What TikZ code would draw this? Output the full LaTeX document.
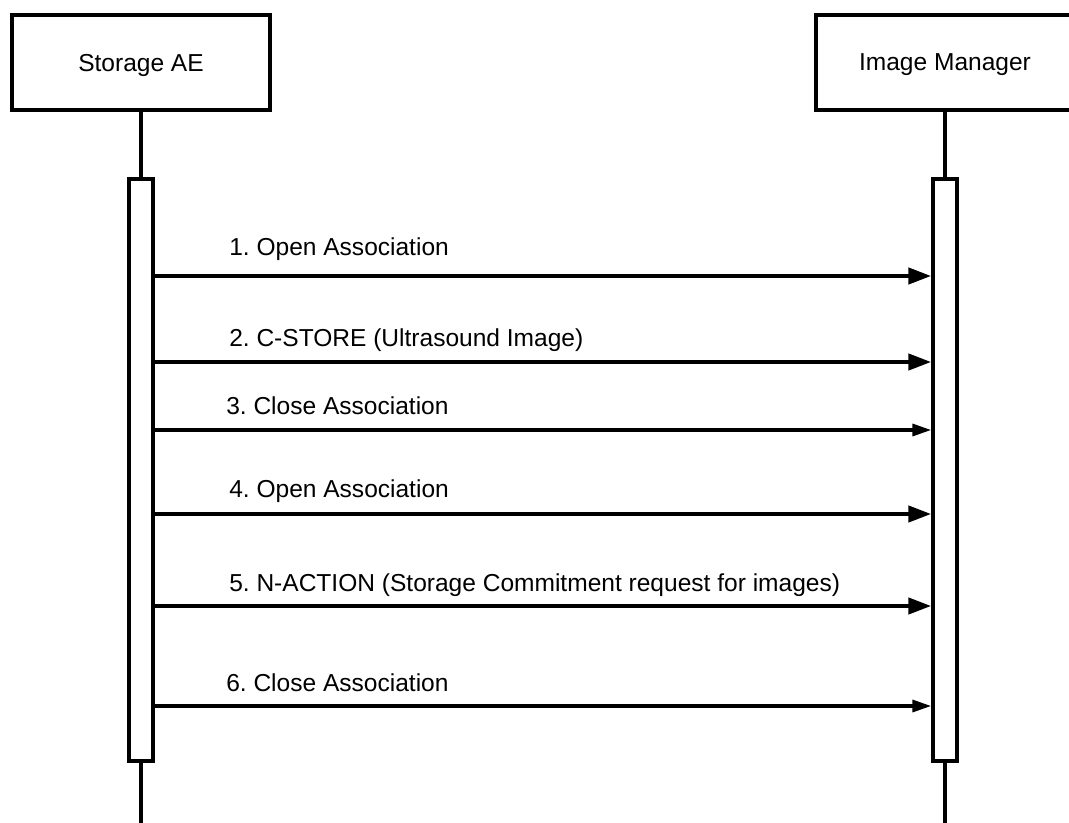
\documentclass[tikz,border=0pt]{standalone}
\usepackage{fontspec}
\setmainfont{Liberation Sans}
\frenchspacing
\usetikzlibrary{arrows.meta}
\tikzset{ actor_box/.style = {rectangle, draw, line width=3pt, inner sep=0pt, text depth=0pt, minimum width=193.5pt, minimum height=71.25pt, font=\fontsize{18.4}{22}\selectfont} }
\tikzset{ act_bar/.style = {rectangle, draw, fill=white, line width=2.8pt, inner sep=0pt, minimum width=18pt, minimum height=436.9pt} }
\tikzset{ life_line/.style = {line width=2.4pt} }
\tikzset{ msg_thick/.style = {line width=3pt, -{Triangle[length=17pt, width=12pt]}} }
\tikzset{ msg_thin/.style = {line width=2.3pt, -{Triangle[length=14pt, width=9pt]}} }
\tikzset{ msg_label/.style = {anchor=base west, inner sep=0pt, font=\fontsize{18.4}{22}\selectfont} }

\begin{document}
\begin{tikzpicture}[x=0.75pt, y=-0.75pt]
\clip (0,0) rectangle (1069,823);
\node[actor_box] (sa) at (141,62.5) {Storage AE};
\node[actor_box] (im) at (945,62.5) {Image Manager};
\node[act_bar] (sa_bar) at (141,470) {};
\node[act_bar] (im_bar) at (945,470) {};
\coordinate (sa_end) at (141,830);
\coordinate (im_end) at (945,830);
\draw[life_line] (sa.south) -- (sa_bar.north);
\draw[life_line] (sa_bar.south) -- (sa_end);
\draw[life_line] (im.south) -- (im_bar.north);
\draw[life_line] (im_bar.south) -- (im_end);
% messages
\foreach \i/\y/\k in {1/276/msg_thick, 2/362/msg_thick, 3/430/msg_thin, 4/514/msg_thick, 5/606/msg_thick, 6/706/msg_thin} {
  \coordinate (from\i) at (sa_bar.east |- 0,\y);
  \coordinate (to\i) at (im_bar.west |- 0,\y);
  \draw[\k] (from\i) -- (to\i);
}
\node[msg_label] (lab1) at (229,256) {1. Open Association};
\node[msg_label] (lab2) at (229,346) {2. C-STORE (Ultrasound Image)};
\node[msg_label] (lab3) at (226,414) {3. Close Association};
\node[msg_label] (lab4) at (229,497) {4. Open Association};
\node[msg_label] (lab5) at (229,591) {5. N-ACTION (Storage Commitment request for images)};
\node[msg_label] (lab6) at (226,691) {6. Close Association};
\end{tikzpicture}
\end{document}
